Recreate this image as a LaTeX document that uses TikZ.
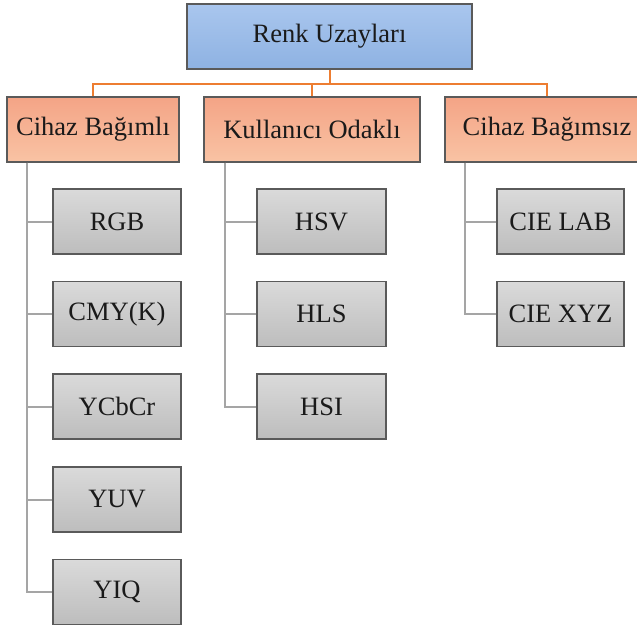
\documentclass[tikz,border=0pt]{standalone}
\usepackage{fontspec}
\setmainfont{Liberation Serif}
\definecolor{bluetop}{HTML}{A9C6EE}
\definecolor{bluebot}{HTML}{8EB2E2}
\definecolor{orgtop}{HTML}{F4A486}
\definecolor{orgbot}{HTML}{F9C3A4}
\definecolor{graytop}{HTML}{DADADA}
\definecolor{graybot}{HTML}{BDBDBD}
\definecolor{oline}{HTML}{ED7D31}
\definecolor{gline}{HTML}{A5A5A5}
\definecolor{bord}{HTML}{5A5A5A}
\definecolor{txt}{HTML}{1A1A1A}
\tikzset{
  box/.style={draw=bord, line width=1.2pt, minimum height=65pt, inner sep=0pt,
    text=txt, font=\fontsize{26.5}{31}\selectfont},
  topbox/.style={box, top color=bluetop, bottom color=bluebot, minimum width=285pt},
  catbox/.style={box, top color=orgtop, bottom color=orgbot},
  leafbox/.style={box, top color=graytop, bottom color=graybot},
  oconn/.style={draw=oline, line width=2pt},
  gconn/.style={draw=gline, line width=2pt},
}
\begin{document}
\begin{tikzpicture}[x=1pt, y=-1pt]
\clip (0,0) rectangle (637,627);
\fill[white] (0,0) rectangle (637,627);
\node[topbox] (top) at (329.5,36.5) {Renk Uzayları};
\node[catbox, minimum width=172pt] (c1) at (93,129.5) {Cihaz Bağımlı};
\node[catbox, minimum width=216pt] (c2) at (312,129.5) {Kullanıcı Odaklı};
\node[catbox, minimum width=204pt] (c3) at (547,129.5) {Cihaz Bağımsız};
% left column
\node[leafbox, minimum width=128pt] (rgb) at (117,221.5) {RGB};
\node[leafbox, minimum width=128pt] (cmy) at (117,314) {CMY(K)};
\node[leafbox, minimum width=128pt] (ycc) at (117,406.5) {YCbCr};
\node[leafbox, minimum width=128pt] (yuv) at (117,499.5) {YUV};
\node[leafbox, minimum width=128pt] (yiq) at (117,592) {YIQ};
% middle column
\node[leafbox, minimum width=129pt] (hsv) at (321.5,221.5) {HSV};
\node[leafbox, minimum width=129pt] (hls) at (321.5,314) {HLS};
\node[leafbox, minimum width=129pt] (hsi) at (321.5,406.5) {HSI};
% right column
\node[leafbox, minimum width=127pt] (lab) at (560.5,221.5) {CIE LAB};
\node[leafbox, minimum width=127pt] (xyz) at (560.5,314) {CIE XYZ};
% orange connectors
\draw[oconn] (top.south) -- ++(0,14) -| (c1.north);
\draw[oconn] (top.south) ++(0,14) -| (c2.north);
\draw[oconn] (top.south) ++(0,14) -| (c3.north);
% gray connectors
\foreach \n in {rgb,cmy,ycc,yuv,yiq}{
  \draw[gconn] (c1.south west) ++(21,0) |- (\n.west);
}
\foreach \n in {hsv,hls,hsi}{
  \draw[gconn] (c2.south west) ++(22,0) |- (\n.west);
}
\foreach \n in {lab,xyz}{
  \draw[gconn] (c3.south west) ++(21,0) |- (\n.west);
}
\end{tikzpicture}
\end{document}
